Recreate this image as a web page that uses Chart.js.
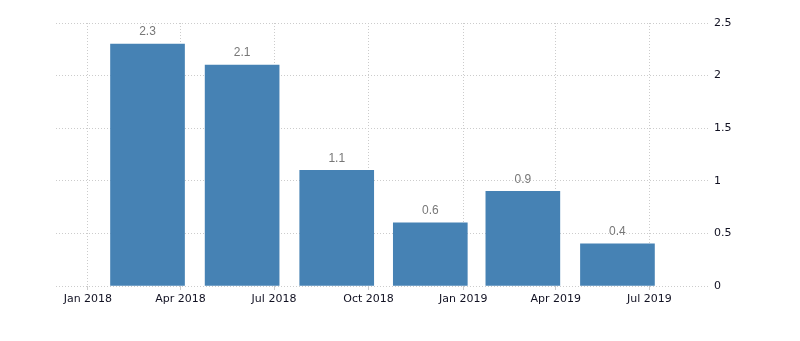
<!DOCTYPE html>
<html>
<head>
<meta charset="utf-8">
<script src="https://cdn.jsdelivr.net/npm/chart.js@4/dist/chart.umd.min.js"></script>
<style>
  html, body { margin: 0; padding: 0; background: #fff; }
  #wrap { width: 800px; height: 341px; }
</style>
</head>
<body>
<div id="wrap"><canvas id="chart" width="800" height="341"></canvas></div>
<script>
// quarterly values, plotted at the end of each period
const periods = ['2018-02-28', '2018-05-31', '2018-08-31', '2018-11-30', '2019-02-28', '2019-05-31'];
const values = [2.3, 2.1, 1.1, 0.6, 0.9, 0.4];

// x axis tick positions and their labels
const tickDates = ['2018-01-01', '2018-04-01', '2018-07-01', '2018-10-01', '2019-01-01', '2019-04-01', '2019-07-01'];
const tickLabels = ['Jan 2018', 'Apr 2018', 'Jul 2018', 'Oct 2018', 'Jan 2019', 'Apr 2019', 'Jul 2019'];

const yTicks = [0, 0.5, 1, 1.5, 2, 2.5];

// days since 1 Jan 2018
const base = Date.UTC(2018, 0, 1);
const toDay = s => {
  const [y, m, d] = s.split('-').map(Number);
  return (Date.UTC(y, m - 1, d) - base) / 86400000;
};

const tickDays = tickDates.map(toDay);
const labelFor = {};
tickDays.forEach((d, i) => { labelFor[d] = tickLabels[i]; });

const gridColor = '#cccccc';
const axisFont = { family: '"DejaVu Sans", Verdana, sans-serif', size: 11 };

const valueLabels = {
  id: 'valueLabels',
  afterDatasetsDraw(chart) {
    const ctx = chart.ctx;
    const meta = chart.getDatasetMeta(0);
    ctx.save();
    ctx.font = '12px "Liberation Sans", Arial, sans-serif';
    ctx.fillStyle = '#777777';
    ctx.textAlign = 'center';
    ctx.textBaseline = 'bottom';
    meta.data.forEach((bar, i) => {
      ctx.fillText(values[i].toString(), bar.x, bar.y - 6);
    });
    ctx.restore();
  }
};

new Chart(document.getElementById('chart'), {
  type: 'bar',
  data: {
    datasets: [{
      data: periods.map((p, i) => ({ x: toDay(p), y: values[i] })),
      backgroundColor: '#4682b4',
      barThickness: 74
    }]
  },
  options: {
    responsive: false,
    animation: false,
    layout: { padding: { left: 56, top: 23, right: 0, bottom: 0 } },
    plugins: {
      legend: { display: false },
      tooltip: { enabled: false }
    },
    scales: {
      x: {
        type: 'linear',
        min: toDay('2017-12-01'),
        max: toDay('2019-08-29'),
        offset: false,
        afterBuildTicks: scale => {
          scale.ticks = tickDays.map(v => ({ value: v }));
        },
        afterFit: scale => { scale.height = 55; },
        border: { display: false, dash: [1, 2] },
        grid: {
          offset: false,
          color: gridColor,
          drawTicks: true,
          tickLength: 4,
          tickColor: gridColor,
          tickBorderDash: []
        },
        ticks: {
          autoSkip: false,
          maxRotation: 0,
          padding: 3,
          color: '#111122',
          font: axisFont,
          callback: v => labelFor[v] || ''
        }
      },
      y: {
        position: 'right',
        min: 0,
        max: 2.5,
        afterBuildTicks: scale => {
          scale.ticks = yTicks.map(v => ({ value: v }));
        },
        afterFit: scale => { scale.width = 90; },
        border: { display: false, dash: [1, 2] },
        grid: {
          color: gridColor,
          drawTicks: false
        },
        ticks: {
          padding: 4,
          crossAlign: 'near',
          color: '#111122',
          font: axisFont,
          callback: v => v.toString()
        }
      }
    }
  },
  plugins: [valueLabels]
});
</script>
</body>
</html>
